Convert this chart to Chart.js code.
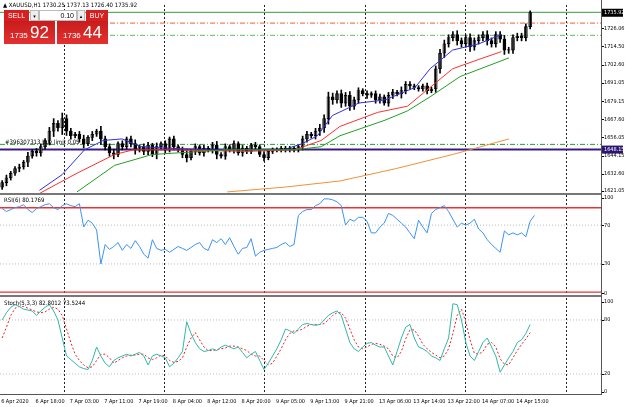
<!DOCTYPE html>
<html><head><meta charset="utf-8">
<script src="https://cdn.jsdelivr.net/npm/chart.js@4"></script>
<style>
html,body{margin:0;width:625px;height:407px;background:#fff;position:relative;overflow:hidden;font-family:"DejaVu Sans",sans-serif}
.w{position:absolute;left:0}
.t{position:absolute;font-size:6px;color:#000;white-space:nowrap;font-family:"Liberation Sans Narrow","DejaVu Sans Condensed",sans-serif}
.sep{position:absolute;left:0;width:601px;height:2px;background:#777}
.r{position:absolute;background:#d42020;color:#fff;text-align:center;font-family:"Liberation Sans",sans-serif}
</style></head><body>
<div class="w" style="top:0"><canvas id="c1" width="625" height="195"></canvas></div>
<div class="w" style="top:195px"><canvas id="c2" width="625" height="101"></canvas></div>
<div class="w" style="top:298px"><canvas id="c3" width="625" height="109"></canvas></div>
<div class="sep" style="top:193px"></div>
<div class="sep" style="top:295px"></div>
<div style="position:absolute;left:601px;top:0;width:1px;height:395px;background:#555"></div>
<div style="position:absolute;left:0;top:394px;width:602px;height:1px;background:#555"></div>
<div class="t" style="left:3px;top:1px">▲ XAUUSD,H1 1730.25 1737.13 1726.40 1735.92</div>
<div class="t" style="left:4px;top:196px">RSI(6) 80.1769</div>
<div class="t" style="left:4px;top:299px">Stoch(5,3,3) 82.8012 73.5244</div>
<div class="t" style="left:5px;top:138px">#396307313 buy limit 0.05</div>
<div class="r" style="left:4px;top:10px;width:25px;height:11px;font-size:7px;line-height:11px">SELL</div>
<div style="position:absolute;left:30px;top:10px;width:9px;height:11px;background:#eee;border:1px solid #bbb;box-sizing:border-box;font-size:5px;text-align:center;line-height:10px">▾</div>
<div style="position:absolute;left:39px;top:10px;width:38px;height:11px;background:#fff;border:1px solid #bbb;box-sizing:border-box;font-size:7px;text-align:right;padding-right:2px;line-height:10px;font-family:'Liberation Sans'">0.10</div>
<div style="position:absolute;left:77px;top:10px;width:8px;height:11px;background:#eee;border:1px solid #bbb;box-sizing:border-box;font-size:5px;text-align:center;line-height:10px">▴</div>
<div class="r" style="left:86px;top:10px;width:22px;height:11px;font-size:7px;line-height:11px">BUY</div>
<div class="r" style="left:4px;top:21px;width:51px;height:23px;background:linear-gradient(#c81c1c,#e43030)"><span style="font-size:8px">1735 </span><span style="font-size:17px;line-height:23px">92</span></div>
<div class="r" style="left:57px;top:21px;width:51px;height:23px;background:linear-gradient(#c81c1c,#e43030)"><span style="font-size:8px">1736 </span><span style="font-size:17px;line-height:23px">44</span></div>
<script>
// ---------- data ----------
const closes=[1627,1630,1633,1636,1637,1640,1644,1647,1646,1650,
1654,1660,1665,1662,1668,1660,1657,
1658,1655,1652,1656,1658,1660,1655,1650,
1646,1645,1652,1650,1655,1652,1648,1650,1647,1651,1645,1650,1652,1648,1655,1650,1648,1645,1643,1647,1650,1646,1649,1648,1651,1645,1644,1650,1648,1652,1646,1649,1647,1651,1650,1645,1643,1647,1648,1648,1649,1648,1649,1648,1650,
1655,1658,1657,1660,1662,1668,1682,
1680,1684,1678,1683,1676,1680,1686,1684,1683,1684,1680,1682,1678,1683,1685,1684,
1686,1690,1689,1688,1687,1689,1686,1687,
1700,1710,1716,1720,
1722,1718,1716,1720,1714,1718,1720,1722,1718,1716,1722,1719,1712,
1712,1720,1721,1720,1727,1736];
const firstOpen=1624;
const wick=[2,3,2,2,3,2,4,2,3,3,2,4,5,3,6,4,3,2,3,4,2,3,2,5,3,3,4,2,3,2,3,4,2,3,3,2,4,2,3,2,3,2,3,4,2,3,2,3,2,3,4,2,3,2,3,2,3,2,2,3,2,3,2,2,2,2,2,2,2,2,3,3,2,3,4,4,5,4,3,4,3,4,3,3,2,3,2,3,3,2,3,3,2,4,3,3,2,2,2,3,2,3,4,4,3,3,4,3,3,4,3,3,3,4,3,3,3,4,3,3,3,3,3,2];
const tickLabels=["6 Apr 2020","6 Apr 18:00","7 Apr 03:00","7 Apr 11:00","7 Apr 19:00","8 Apr 04:00","8 Apr 12:00","8 Apr 20:00","9 Apr 05:00","9 Apr 13:00","9 Apr 21:00","13 Apr 06:00","13 Apr 14:00","13 Apr 22:00","14 Apr 07:00","14 Apr 15:00"];
const priceTicks=[1621.05,1632.60,1644.15,1656.05,1667.60,1679.15,1691.05,1702.60,1714.50,1726.06];
const rsiTicks=[100,70,30,0];
const stochTicks=[100,80,20,0];
const blueMA={0:1622,6:1632,12:1648,17:1654,22:1655,27:1650,35:1649,45:1648,55:1648,65:1648,70:1652,74:1657,78:1670,85:1678,92:1680,100:1688,104:1700,110:1712,117:1716,123:1722};
const redMA={0:1620,10:1633,20:1645,25:1648,35:1648,55:1647,68:1648,75:1654,80:1663,90:1672,98:1676,104:1688,110:1700,117:1706,123:1711};
const greenMA={10:1621,20:1638,30:1645,50:1648,68:1648,75:1650,80:1657,92:1667,98:1673,104:1682,112:1695,125:1707};
const orangeMA={50:1621,65:1624,80:1628,95:1636,110:1645,125:1655};
const rsi=[87,84,86,88,89,91,86,83,87,89,91,92,88,86,90,92,90,89,92,
68,75,72,65,30,
50,45,48,52,44,50,46,54,48,40,36,
55,46,44,45,42,45,48,46,44,47,50,
52,46,44,55,52,56,50,57,48,40,46,47,56,
38,42,44,45,46,47,50,52,48,50,
80,84,86,86,90,92,97,97,96,94,90,70,
76,74,78,78,74,62,62,68,72,82,80,76,
72,68,62,56,75,68,62,82,86,88,90,84,
76,68,72,70,72,76,66,62,55,50,46,42,
64,60,62,60,62,58,74,80];
const stochMain=[80,88,94,97,95,92,91,90,85,90,94,97,90,80,60,40,36,32,28,26,25,35,50,40,32,28,35,38,40,42,40,42,44,40,30,40,42,40,38,28,32,38,45,78,65,55,48,45,46,48,46,50,52,50,48,50,44,38,42,45,35,25,32,40,48,58,70,68,65,70,75,76,75,74,75,80,85,88,90,85,70,55,48,45,50,54,55,52,50,50,40,30,45,60,72,75,60,50,48,45,40,38,35,48,60,98,97,80,55,40,35,45,55,60,50,40,22,30,38,45,55,58,65,75];
const stochSig=[60,72,85,93,95,95,93,91,89,88,89,92,94,92,85,70,55,42,35,30,27,28,35,42,42,38,32,35,38,40,41,41,42,42,38,36,38,41,40,35,33,34,38,50,60,66,58,50,46,46,47,48,49,51,51,50,48,46,42,40,40,35,30,32,40,48,58,65,68,68,70,73,75,75,75,76,80,85,88,88,82,70,58,50,48,50,53,54,53,51,48,40,38,45,59,69,69,62,53,48,44,41,38,40,48,65,85,92,78,58,43,42,45,53,55,50,37,31,30,38,46,53,59,66];
// ---------- build ----------
const N=140;
const labels=Array.from({length:N},(_,i)=>String(i));
const opens=closes.map((c,i)=>i===0?firstOpen:closes[i-1]);
const bodies=closes.map((c,i)=>[opens[i],c===opens[i]?c+0.3:c]);
const wicks=closes.map((c,i)=>[Math.min(c,opens[i])-wick[i]*0.7,Math.max(c,opens[i])+wick[i]*0.6]);
const up=closes.map((c,i)=>c>=opens[i]);
const sparse=o=>Object.keys(o).map(k=>({x:+k,y:o[k]}));
const gridX=[14.4,37.6,61,84.5,107.9,131.4];
const FONT='5.5px "Liberation Sans Narrow","DejaVu Sans Condensed",sans-serif';
const vgrid={id:'vg',beforeDatasetsDraw(ch){const a=ch.chartArea,c=ch.ctx;c.save();c.strokeStyle='#222';c.lineWidth=1;c.setLineDash([2,2]);
 gridX.forEach(v=>{const x=Math.round(a.left+(v+0.5)*(a.right-a.left)/N)+0.5;c.beginPath();c.moveTo(x,a.top);c.lineTo(x,a.bottom);c.stroke();});c.restore();}};
function hline(ch,val,color,w,dash,x0){const a=ch.chartArea,c=ch.ctx,y=ch.scales.y.getPixelForValue(val);c.save();c.strokeStyle=color;c.lineWidth=w;c.setLineDash(dash||[]);c.beginPath();c.moveTo(x0||a.left,y);c.lineTo(a.right,y);c.stroke();c.restore();}
function ylabels(ch,ticks,fmt){const c=ch.ctx,a=ch.chartArea;c.save();c.fillStyle='#000';c.font=FONT;c.textBaseline='middle';
 ticks.forEach(v=>{const y=Math.min(Math.max(ch.scales.y.getPixelForValue(v),a.top+3),a.bottom-2);c.fillRect(a.right+1,Math.round(y),2,1);c.fillText(fmt(v),a.right+3,y);});c.restore();}
const yAxis=(min,max)=>({position:'right',min,max,afterFit(s){s.width=24},grid:{display:false},border:{display:false},ticks:{display:false}});
const xAxis={type:'category',display:false,offset:true,grid:{display:false}};
const base={responsive:false,animation:false,plugins:{legend:{display:false},tooltip:{enabled:false}},events:[]};
// main
new Chart(document.getElementById('c1'),{type:'bar',data:{labels,datasets:[
 {type:'line',data:sparse(orangeMA),borderColor:'#f0903c',borderWidth:1,pointRadius:0,xAxisID:'xl'},
 {type:'line',data:sparse(greenMA),borderColor:'#20a020',borderWidth:1,pointRadius:0,xAxisID:'xl'},
 {type:'line',data:sparse(redMA),borderColor:'#ff3030',borderWidth:1,pointRadius:0,xAxisID:'xl'},
 {type:'line',data:sparse(blueMA),borderColor:'#3030e0',borderWidth:1,pointRadius:0,xAxisID:'xl'},
 {data:wicks,backgroundColor:'#000',barThickness:1,grouped:false},
 {data:bodies,backgroundColor:up.map(u=>u?'#fff':'#000'),borderColor:'#000',borderWidth:0.8,borderSkipped:false,barThickness:3,grouped:false}
]},options:{...base,layout:{padding:{top:5,bottom:2,left:0,right:0}},
 scales:{x:xAxis,xl:{type:'linear',min:-0.5,max:N-0.5,display:false},y:yAxis(1620.3,1740.9)}},
 plugins:[vgrid,{id:'lv',beforeDatasetsDraw(ch){
  hline(ch,1736.2,'#3a9a3a',1);hline(ch,1729.3,'#ff5a30',1,[5,2,1,2],110);hline(ch,1721.4,'#80c880',1.2,[5,2,1,2],110);
  hline(ch,1651.5,'#20a020',1,[5,2,1,2]);hline(ch,1648.15,'#3a1a8a',2);},
  afterDraw(ch){ylabels(ch,priceTicks,v=>v.toFixed(2));const c=ch.ctx,a=ch.chartArea;[[1735.92,'#000'],[1648.15,'#2a1670']].forEach(([v,col])=>{const y=ch.scales.y.getPixelForValue(v);
  c.fillStyle=col;c.fillRect(a.right+1,y-4,21,8);c.fillStyle='#fff';c.font=FONT;c.textBaseline='middle';c.fillText(v.toFixed(2),a.right+3,y);});}}]});
// RSI
new Chart(document.getElementById('c2'),{type:'line',data:{labels,datasets:[
 {data:rsi,borderColor:'#3a94f0',borderWidth:1,pointRadius:0}]},
 options:{...base,layout:{padding:0},scales:{x:xAxis,y:yAxis(-3,101)}},
 plugins:[vgrid,{id:'rl',beforeDatasetsDraw(ch){hline(ch,70,'#bbb',1,[1,2]);hline(ch,30,'#bbb',1,[1,2]);hline(ch,88,'#f03030',1.5);hline(ch,1,'#f03030',1.2);},
 afterDraw(ch){ylabels(ch,rsiTicks,v=>String(v));}}]});
// Stoch
new Chart(document.getElementById('c3'),{type:'line',data:{labels,datasets:[
 {data:stochMain,borderColor:'#30b8a8',borderWidth:1,pointRadius:0},
 {data:stochSig,borderColor:'#f02020',borderWidth:1,borderDash:[2,2],pointRadius:0}]},
 options:{...base,layout:{padding:{bottom:13}},scales:{x:xAxis,y:yAxis(-2.2,104.4)}},
 plugins:[vgrid,{id:'sl',beforeDatasetsDraw(ch){hline(ch,80,'#bbb',1,[1,2]);hline(ch,20,'#bbb',1,[1,2]);},
 afterDraw(ch){ylabels(ch,stochTicks,v=>String(v));const c=ch.ctx,a=ch.chartArea;c.save();c.fillStyle='#000';c.font=FONT;c.textBaseline='top';
  tickLabels.forEach((t,k)=>{const x=a.left+(k*8+0.5)*(a.right-a.left)/N;c.fillText(t,Math.max(1,x-1),a.bottom+5);});c.restore();}}]});
</script></body></html>
